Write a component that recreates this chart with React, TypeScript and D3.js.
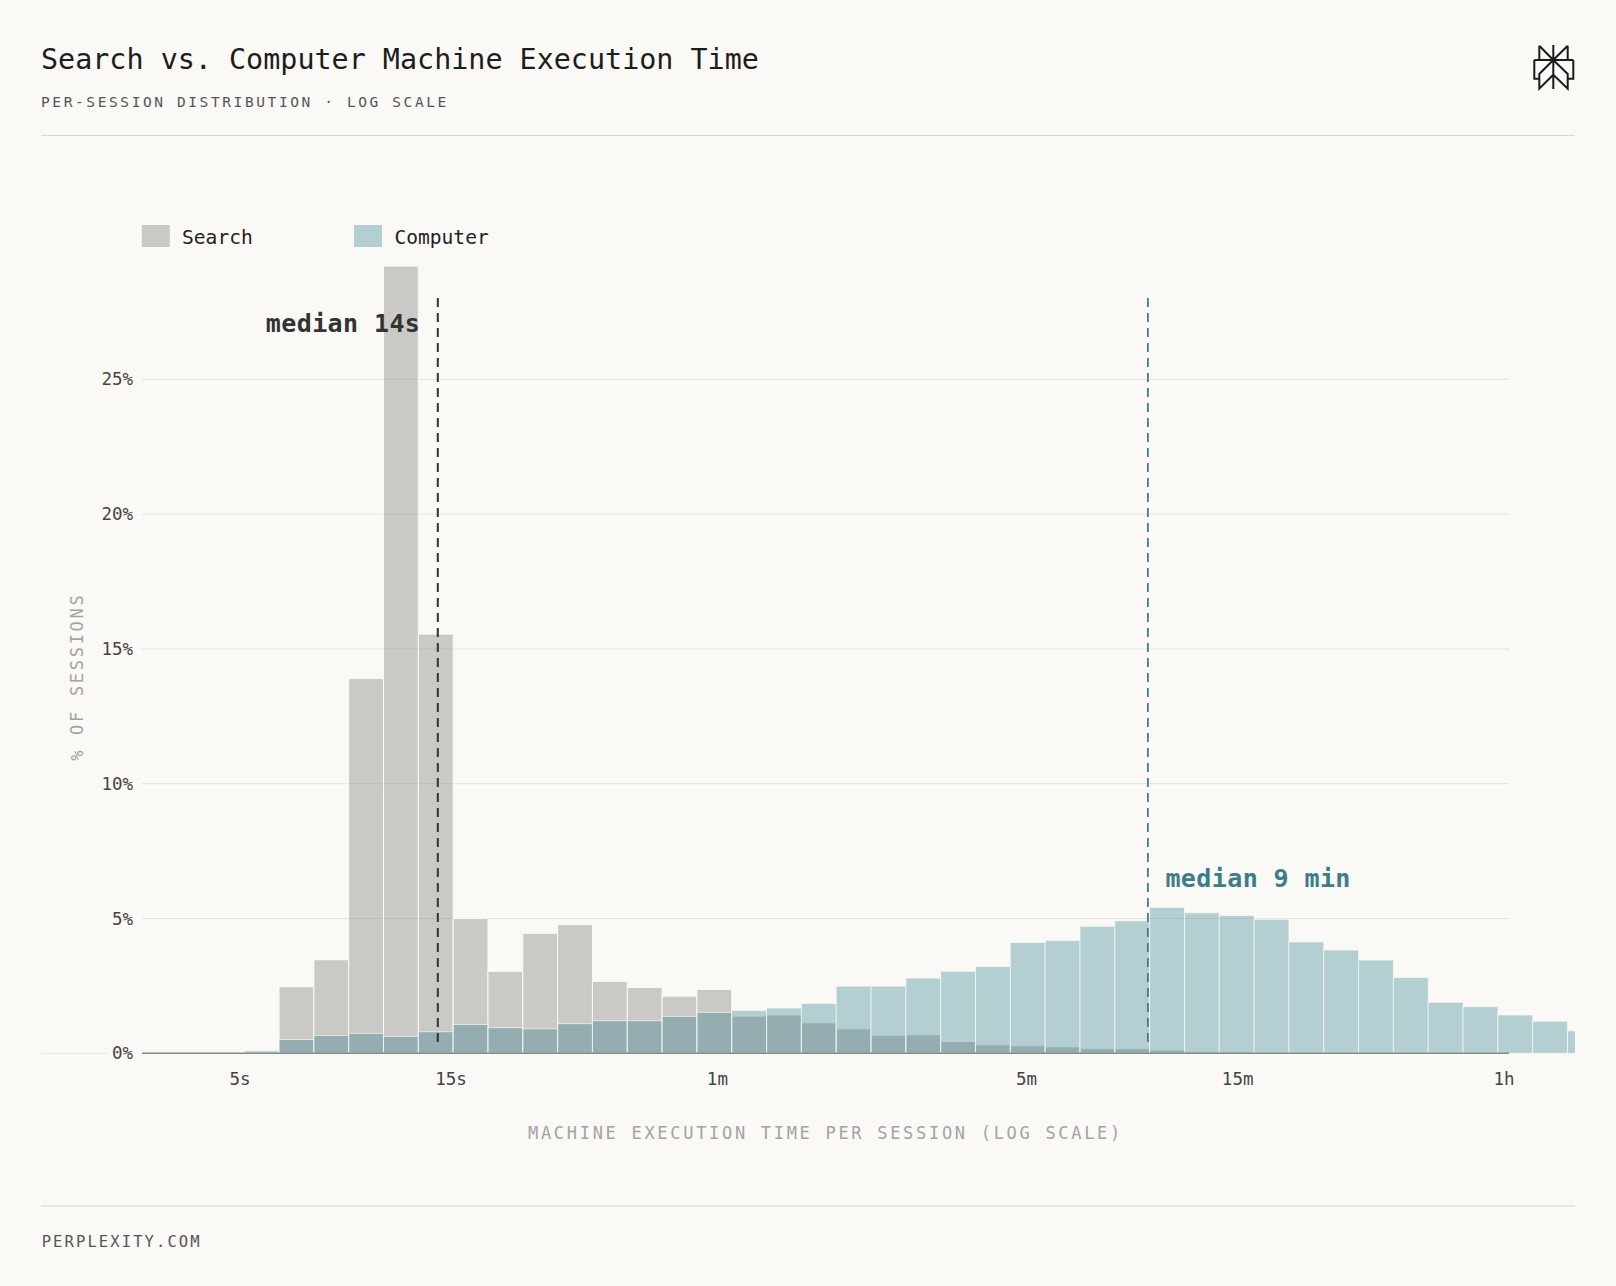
import React from 'react';
import * as d3 from 'd3';

// histogram spec: log-spaced bins between 1 s and 2 h
const BIN_MIN_SEC = 1;
const BIN_MAX_SEC = 7200;
const BIN_COUNT = 49;

// % of sessions per bin, arrays start at FIRST_BIN
const FIRST_BIN = 9;
const searchShare = [
    0, 2.47, 3.47, 13.9, 29.2, 15.55, 5.0, 3.04, 4.45, 4.77, 2.67, 2.44, 2.12, 2.37, 1.38,
    1.42, 1.13, 0.91, 0.67, 0.69, 0.44, 0.32, 0.28, 0.24, 0.17, 0.17, 0.12, 0.07, 0.05, 0.04,
];
const computerShare = [
    0.09, 0.51, 0.66, 0.74, 0.63, 0.8, 1.07, 0.95, 0.91, 1.1, 1.21, 1.21, 1.37, 1.52, 1.59,
    1.68, 1.85, 2.49, 2.49, 2.79, 3.04, 3.22, 4.11, 4.18, 4.71, 4.91, 5.41, 5.21, 5.11, 4.97,
    4.13, 3.83, 3.46, 2.81, 1.89, 1.73, 1.42, 1.19, 0.83,
];

const xTickValues = [5, 15, 60, 300, 900, 3600];
const xTickLabels = ['5s', '15s', '1m', '5m', '15m', '1h'];
const yTickValues = [0, 5, 10, 15, 20, 25];

const searchMedianSec = 14;
const computerMedianSec = 564;

const MONO = "'DejaVu Sans Mono', 'Liberation Mono', monospace";
const BG = '#faf9f5';

const binEdge = (i: number) => BIN_MIN_SEC * Math.pow(BIN_MAX_SEC / BIN_MIN_SEC, i / BIN_COUNT);

const App: React.FC = () => {
    const width = 1616;
    const height = 1286;
    const plotLeft = 142;
    const plotRight = 1509;

    const x = d3.scaleLog().domain([5, 3600]).range([240, 1504]);
    const y = d3.scaleLinear().domain([0, 25]).range([1053.3, 379.3]);

    const toBars = (vals: number[]) =>
        vals.map((v, k) => ({ x0: binEdge(FIRST_BIN + k), x1: binEdge(FIRST_BIN + k + 1), v }));
    const searchBars = toBars(searchShare).filter(d => d.v > 0);
    const computerBars = toBars(computerShare).filter(d => d.v > 0);

    // logo geometry
    const cx = 1553.3, L = 1539.3, R = 1567.7, OL = 1534.3, OR = 1573.3;
    const logo = [
        `M${cx},45 V89`,
        `M${L},45.7 V60 M${L},45.7 L${cx},60`,
        `M${R},45.7 V60 M${R},45.7 L${cx},60`,
        `M${OL},60 H${OR}`,
        `M${OL},60 V78.7 H${L} M${OR},60 V78.7 H${R}`,
        `M${cx},60 L${L},74 V88.7 L${cx},74.7`,
        `M${cx},60 L${R},74 V88.7 L${cx},74.7`,
    ].join(' ');

    return (
        <svg width={width} height={height} style={{ position: 'absolute', left: 0, top: 0, display: 'block' }}>
            <defs>
                <clipPath id="plotClip">
                    <rect x={0} y={0} width={1575} height={height} />
                </clipPath>
            </defs>
            <rect width={width} height={height} fill={BG} />

            {/* header */}
            <text x={41} y={69} fontFamily={MONO} fontSize={28.4} fill="#1c1c1c">
                Search vs. Computer Machine Execution Time
            </text>
            <text x={41} y={106.7} fontFamily={MONO} fontSize={14.5} letterSpacing={2.6} fill="#555">
                PER-SESSION DISTRIBUTION · LOG SCALE
            </text>
            <path d={logo} fill="none" stroke="#1c1c1c" strokeWidth={2} strokeLinejoin="miter" />
            <line x1={41} x2={1575} y1={135.5} y2={135.5} stroke="#d8d6d0" strokeWidth={1.2} />

            {/* legend */}
            <rect x={141.8} y={225} width={28} height={22} fill="#84817f" fillOpacity={0.4} />
            <text x={182} y={243.5} fontFamily={MONO} fontSize={19.6} fill="#222">Search</text>
            <rect x={354} y={225} width={28} height={22} fill="#1b7281" fillOpacity={0.31} />
            <text x={394.4} y={243.5} fontFamily={MONO} fontSize={19.6} fill="#222">Computer</text>

            {/* grid */}
            {yTickValues.filter(t => t > 0).map(t => (
                <line key={t} x1={plotLeft} x2={plotRight} y1={y(t)} y2={y(t)} stroke="#e5e3dd" strokeWidth={1} />
            ))}
            <line x1={41} x2={108} y1={y(0)} y2={y(0)} stroke="#e3e6e3" strokeWidth={1} />
            {yTickValues.map(t => (
                <text key={t} x={133} y={y(t)} textAnchor="end" dominantBaseline="central"
                    fontFamily={MONO} fontSize={17.5} fill="#444">{`${t}%`}</text>
            ))}
            <text transform="translate(77,676.7) rotate(-90)" textAnchor="middle" dominantBaseline="central"
                fontFamily={MONO} fontSize={17} letterSpacing={2.7} fill="#a3a3a3">% OF SESSIONS</text>

            {/* bars */}
            <g clipPath="url(#plotClip)">
                {searchBars.map((d, i) => (
                    <rect key={`s${i}`} x={x(d.x0)} width={x(d.x1) - x(d.x0)} y={y(d.v)} height={y(0) - y(d.v)}
                        fill="#84817f" fillOpacity={0.4} stroke={BG} strokeWidth={1} />
                ))}
                {computerBars.map((d, i) => (
                    <rect key={`c${i}`} x={x(d.x0)} width={x(d.x1) - x(d.x0)} y={y(d.v)} height={y(0) - y(d.v)}
                        fill="#1b7281" fillOpacity={0.31} stroke={BG} strokeOpacity={0.7} strokeWidth={1} />
                ))}
            </g>
            <line x1={plotLeft} x2={plotRight} y1={y(0)} y2={y(0)} stroke="#858b8b" strokeWidth={1.4} />

            {/* medians */}
            <line x1={x(searchMedianSec)} x2={x(searchMedianSec)} y1={298} y2={1048}
                stroke="#333" strokeWidth={2} strokeDasharray="9 6" />
            <text x={420.3} y={331.7} textAnchor="end" fontFamily={MONO} fontSize={25} fontWeight="bold"
                letterSpacing={0.4} fill="#333">median 14s</text>
            <line x1={x(computerMedianSec)} x2={x(computerMedianSec)} y1={298} y2={1048}
                stroke="#3f7f8a" strokeWidth={1.8} strokeDasharray="9 6" />
            <text x={x(computerMedianSec) + 17.5} y={886.7} fontFamily={MONO} fontSize={25} fontWeight="bold"
                letterSpacing={0.4} fill="#3b7e89">median 9 min</text>

            {/* x axis */}
            {xTickValues.map((t, i) => (
                <text key={t} x={x(t)} y={1085} textAnchor="middle" fontFamily={MONO} fontSize={17.5} fill="#444">
                    {xTickLabels[i]}
                </text>
            ))}
            <text x={(plotLeft + plotRight) / 2} y={1139.3} textAnchor="middle" fontFamily={MONO} fontSize={17}
                letterSpacing={2.7} fill="#a3a3a3">MACHINE EXECUTION TIME PER SESSION (LOG SCALE)</text>

            {/* footer */}
            <line x1={41} x2={1575} y1={1206} y2={1206} stroke="#d8d6d0" strokeWidth={1.2} />
            <text x={41.7} y={1246.7} fontFamily={MONO} fontSize={15.5} letterSpacing={2.1} fill="#555">
                PERPLEXITY.COM
            </text>
        </svg>
    );
};

export default App;
